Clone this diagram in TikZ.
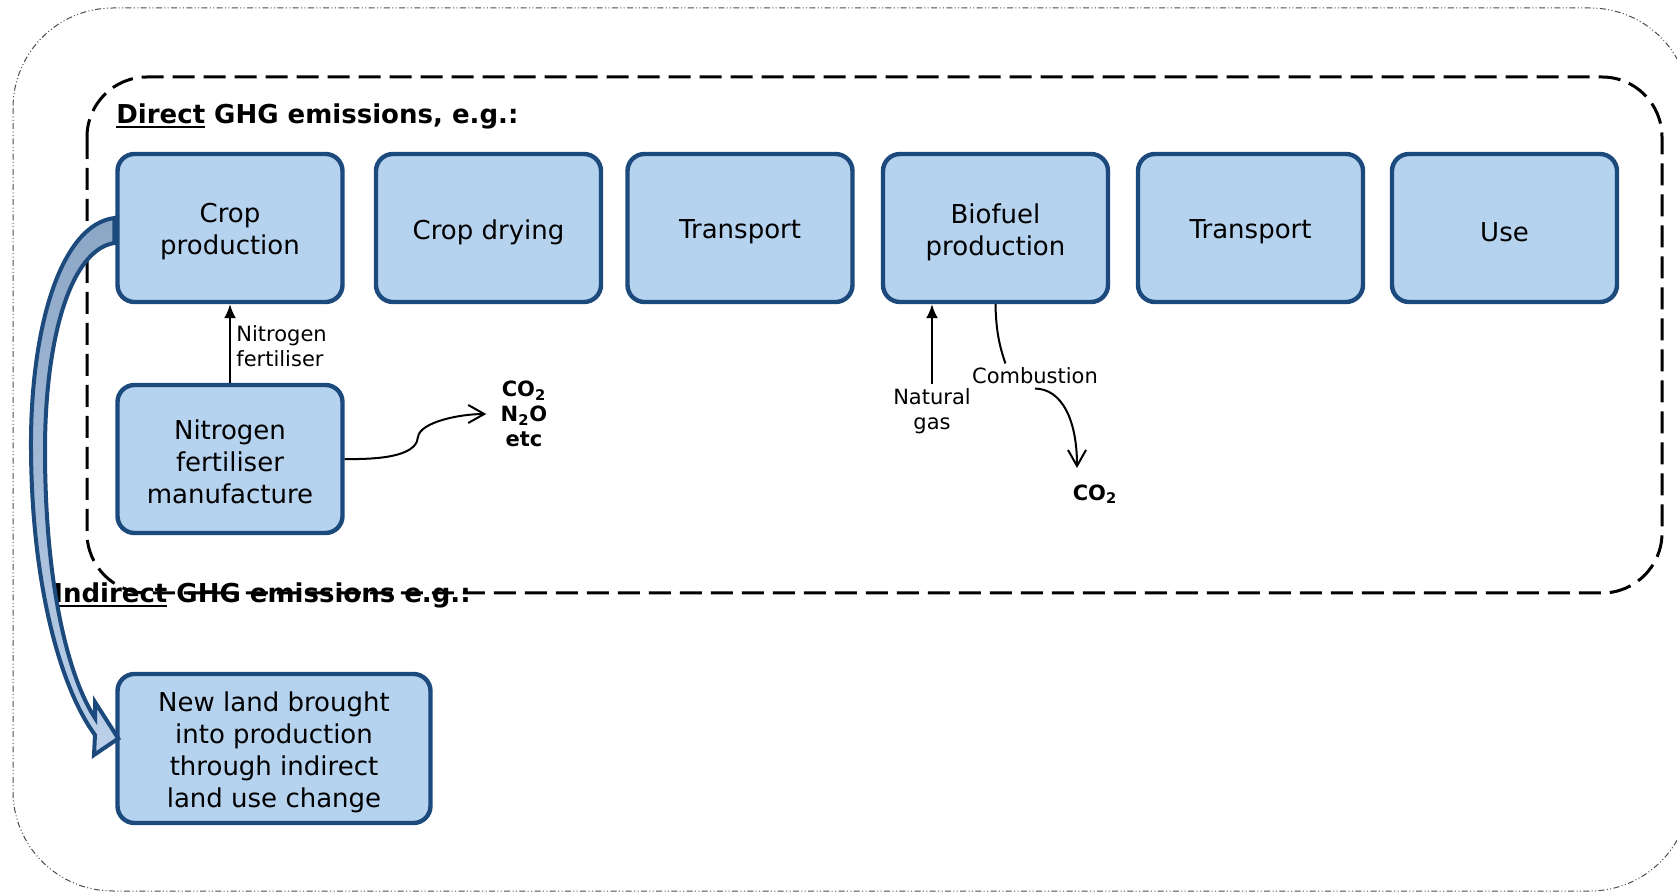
\documentclass[tikz,border=0pt]{standalone}
\usepackage{fontspec}
\setmainfont{DejaVu Sans}
\newcommand\myul[1]{\leavevmode\setbox0\hbox{#1}\rlap{\rule[-2.2pt]{\wd0}{1pt}}\box0\relax}
\usetikzlibrary{arrows.meta,calc}
\definecolor{boxfill}{RGB}{181,210,238}
\definecolor{boxline}{RGB}{28,74,124}
\definecolor{arrtop}{RGB}{140,166,198}
\definecolor{arrbot}{RGB}{188,208,233}
\begin{document}
\begin{tikzpicture}[x=0.5pt,y=-0.5pt,
  stagebox/.style={draw=boxline, fill=boxfill, line width=2.2pt, rounded corners=8.5pt,
    minimum width=112.5pt, minimum height=74pt, inner sep=0pt},
  stagetext/.style={align=center, font=\fontsize{13}{16}\selectfont, inner sep=0pt},
  smalltxt/.style={font=\fontsize{10.5}{12.6}\selectfont, align=center, inner sep=2pt},
  gas/.style={font=\bfseries\fontsize{10.5}{12.5}\selectfont, align=center, inner sep=2pt},
  thinarrow/.style={line width=1pt},
  heading/.style={font=\bfseries\fontsize{13}{16}\selectfont, anchor=base west, inner sep=0pt}
]
\useasboundingbox (0,0) rectangle (1677,892);
% frames
\draw[gray!60!black, line width=0.5pt, dash pattern=on 3pt off 1.2pt on 0.5pt off 1.2pt on 0.5pt off 1.2pt,
  rounded corners=50pt] (13,8) rectangle (1690,891);
\draw[line width=1.5pt, dash pattern=on 11pt off 4.5pt, rounded corners=30pt] (87,77) rectangle (1662,593);
% headings
\node[heading] (dh) at (116,124) {\myul{Direct} GHG emissions, e.g.:};
\node[heading] (ih) at (53,603) {\myul{Indirect} GHG emissions e.g.:};
% boxes
\node[stagebox] (crop) at (230,228) {};
\node[stagetext] (cropT) at ([yshift=-2pt]crop.center) {Crop\\production};
\node[stagebox] (dry) at (488.5,228) {};
\node[stagetext] (dryT) at ([yshift=-2pt]dry.center) {Crop drying};
\node[stagebox] (tr1) at (740,228) {};
\node[stagetext] (tr1T) at ([yshift=-2pt]tr1.center) {Transport};
\node[stagebox] (bio) at (995.5,228) {};
\node[stagetext] (bioT) at ([yshift=-2pt]bio.center) {Biofuel\\production};
\node[stagebox] (tr2) at (1250.5,228) {};
\node[stagetext] (tr2T) at ([yshift=-2pt]tr2.center) {Transport};
\node[stagebox] (use) at (1504.5,228) {};
\node[stagetext] (useT) at ([yshift=-2pt]use.center) {Use};
\node[stagebox] (nfm) at (230,459) {};
\node[stagetext] (nfmT) at ([yshift=-1.5pt]nfm.center) {Nitrogen\\fertiliser\\manufacture};
\node[stagebox, minimum width=156.5pt, minimum height=74.5pt] (land) at (274,748.5) {};
\node[stagetext] (landT) at ([yshift=-2pt]land.center)
  {New land brought\\into production\\through indirect\\land use change};
% nitrogen fertiliser
\node[smalltxt, align=left, anchor=west] (nfl) at (232,346) {Nitrogen\\fertiliser};
\draw[thinarrow, -{Latex[length=7pt,width=6pt]}] (nfm.north) -- (crop.south);
\node[gas] (emis) at (524,414) {CO\textsubscript{2}\\N\textsubscript{2}O\\etc};
\draw[thinarrow, -{Straight Barb[length=8pt,width=9pt]}, shorten >=5pt]
  (nfm.east) .. controls (400,460) and (417,450) .. (418,437)
  .. controls (420,422) and (460,414) .. (emis.west);
% biofuel production inputs/outputs
\node[smalltxt] (ng) at (932,411) {Natural\\gas};
\draw[thinarrow, -{Latex[length=7pt,width=6pt]}] (ng.north) -- (ng.north |- bio.south);
\node[smalltxt] (comb) at (1035,376) {Combustion};
\draw[thinarrow] (bio.south) .. controls (996,335) and (1001,350)
  .. ($(comb.north west)!0.28!(comb.north east)$);
\coordinate (tipB) at (1077,468);
\node[gas] (co2b) at (1095,494) {CO\textsubscript{2}};
\draw[thinarrow, -{Straight Barb[length=8pt,width=9pt]}]
  (comb.south) .. controls (1062,389) and (1077,420) .. (tipB);
% big curved block arrow
\draw[boxline, line width=2pt, top color=arrtop, bottom color=arrbot, line join=miter]
  ($(crop.west)+(-1,-10)$) .. controls (60,225) and (30,330) .. (31,450)
  .. controls (32,590) and (62,690) .. (95,735) -- (94,755)
  -- ($(land.west)+(3,-10)$) -- (95,702) -- (95,718)
  .. controls (70,680) and (45,590) .. (45,450)
  .. controls (45,340) and (70,250) .. ($(crop.west)+(-1,15)$) -- cycle;
\end{tikzpicture}
\end{document}
